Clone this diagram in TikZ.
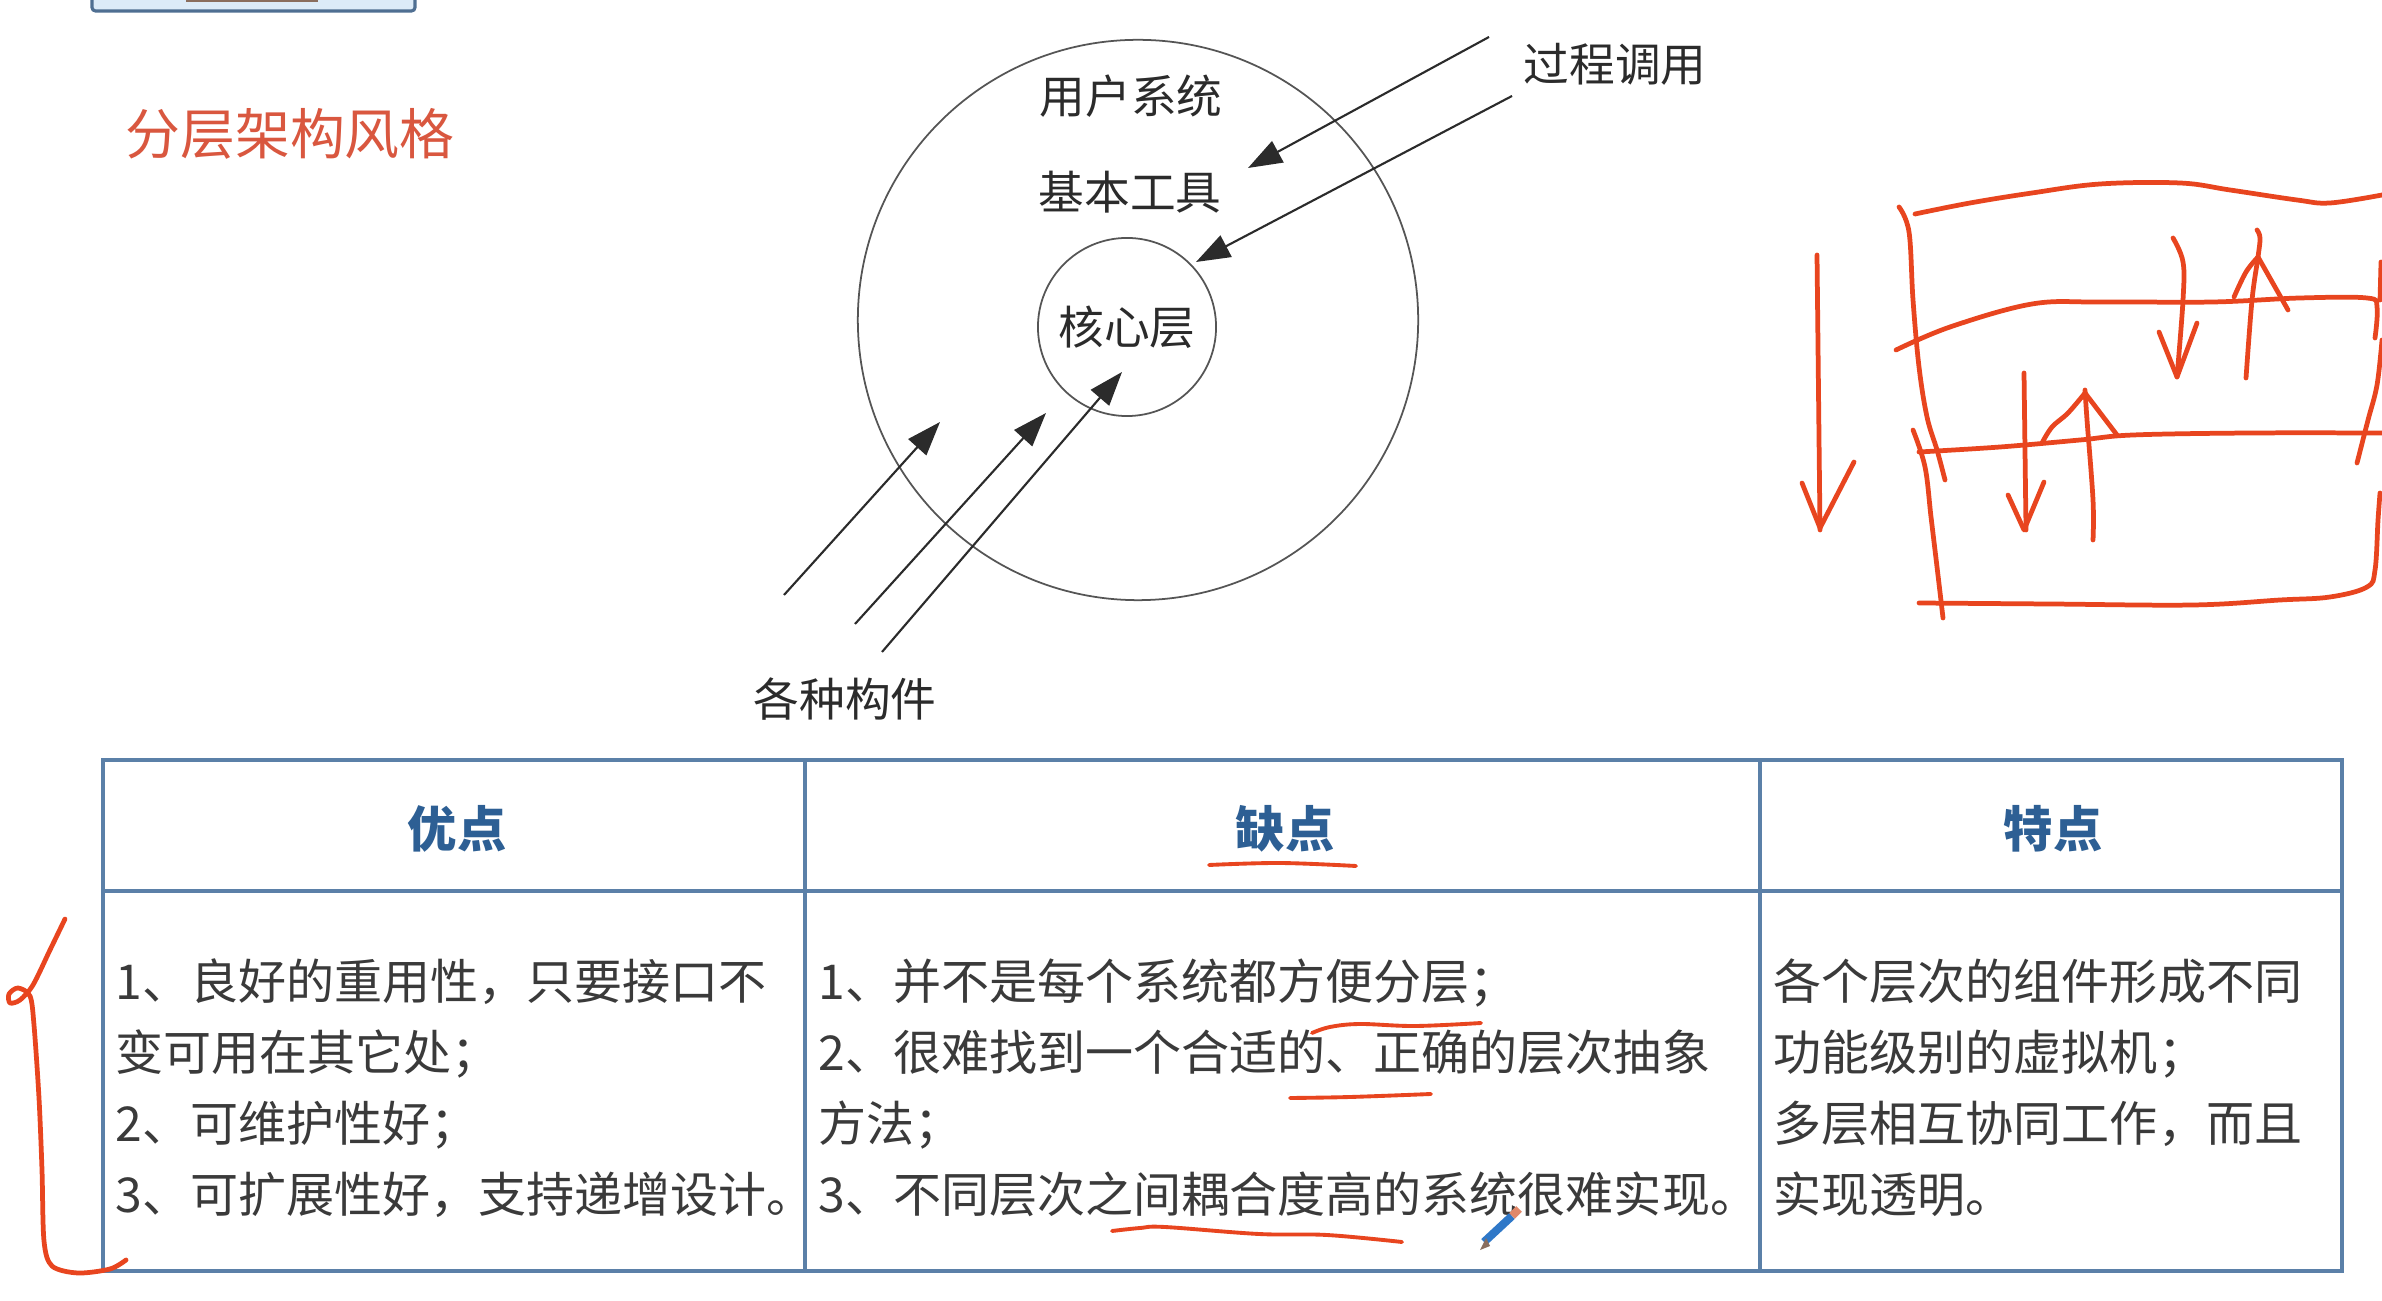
\documentclass[tikz,border=0pt]{standalone}
\usepackage{fontspec}
\setmainfont{Noto Sans CJK SC}
\usetikzlibrary{arrows.meta}
\definecolor{ink}{HTML}{2B2B2B}
\definecolor{pen}{HTML}{E8451F}
\definecolor{grid}{HTML}{5B80A8}
\definecolor{head}{HTML}{2D5F94}
\definecolor{body}{HTML}{3A3A3A}
\definecolor{titlered}{HTML}{D9573F}
\definecolor{tabfill}{HTML}{DCEBF8}
\definecolor{tabedge}{HTML}{4F6F92}
\definecolor{tabbar}{HTML}{8A6E5E}
\definecolor{pencilblue}{HTML}{2F78C8}
\definecolor{pencilcap}{HTML}{E0886A}
\begin{document}
\begin{tikzpicture}[x=0.01cm,y=-0.01cm,
  dlabel/.style={font=\fontsize{13}{15}\selectfont, text=ink, inner sep=0pt},
  callarrow/.style={draw=ink, line width=0.6pt, -{Triangle[length=0.34cm,width=0.24cm]}},
  ring/.style={circle, draw=ink!80, line width=0.5pt, inner sep=0pt},
  hand/.style={draw=pen, line width=1.35pt, line cap=round, line join=round},
  underline/.style={draw=pen, line width=1.1pt, line cap=round},
  gridline/.style={draw=grid, line width=0.9pt},
  headtext/.style={font=\fontsize{14}{16}\selectfont\bfseries, text=head, inner sep=0pt},
  celltext/.style={font=\fontsize{13.66}{20.2}\selectfont, text=body, align=left, anchor=west, inner sep=0pt},
]
\fill[white] (0,0) rectangle (2382,1301);
\useasboundingbox (0,0) rectangle (2382,1301);

% tab at the top edge
\draw[fill=tabfill, draw=tabedge, line width=0.9pt, rounded corners=1pt] (92,-12) rectangle (415,11);
\fill[tabbar] (186,-5) rectangle (318,2);

% heading
\node[font=\fontsize{15.6}{18}\selectfont, text=titlered, inner sep=0pt] (title) at (290,134) {分层架构风格};

% layered rings
\node[ring, minimum size=5.6cm] (outer) at (1138,320) {};
\node[ring, minimum size=1.78cm, font=\fontsize{13}{15}\selectfont, text=ink] (core) at (1127,327) {核心层};
\node[dlabel] (user) at (1131,96) {用户系统};
\node[dlabel] (tools) at (1130,192) {基本工具};
\node[dlabel] (call) at (1615,64) {过程调用};
\node[dlabel] (parts) at (845,699) {各种构件};

% procedure-call arrows
\coordinate (c1s) at (1489,37);  \coordinate (c1e) at (1248,168);
\coordinate (c2s) at (1512,96);  \coordinate (c2e) at (1196,262);
\draw[callarrow] (c1s) -- (c1e);
\draw[callarrow] (c2s) -- (c2e);

% component arrows
\coordinate (p1s) at (784,595);  \coordinate (p1e) at (940,422);
\coordinate (p2s) at (855,624);  \coordinate (p2e) at (1046,413);
\coordinate (p3s) at (882,652);  \coordinate (p3e) at (1122,372);
\draw[callarrow] (p1s) -- (p1e);
\draw[callarrow] (p2s) -- (p2e);
\draw[callarrow] (p3s) -- (p3e);

% hand sketch: stacked layers
\draw[hand] (1817,255) -- (1820,530);
\draw[hand] (1802,483) -- (1820,528) -- (1854,462);
\draw[hand] plot[smooth, tension=0.6] coordinates {(1899,207) (1909,232) (1913,300) (1919,367) (1927,417) (1937,450) (1945,480)};
\draw[hand] plot[smooth, tension=0.6] coordinates {(1913,430) (1925,467) (1931,517) (1937,567) (1943,618)};
\draw[hand] plot[smooth, tension=0.6] coordinates {(1915,214) (1970,203) (2032,193) (2100,184) (2180,183) (2230,190) (2297,200) (2330,203) (2382,195)};
\draw[hand] plot[smooth, tension=0.6] coordinates {(1896,350) (1950,327) (2032,304) (2100,302) (2213,302) (2300,298) (2367,298) (2377,307) (2375,338)};
\draw[hand] plot[smooth, tension=0.6] coordinates {(1919,452) (2000,447) (2080,440) (2133,435) (2250,433) (2382,433)};
\draw[hand] plot[smooth, tension=0.6] coordinates {(1919,603) (2050,604) (2193,605) (2280,600) (2330,597) (2367,587) (2375,570) (2378,520) (2380,493)};
\draw[hand] (2381,262) -- (2380,300);
\draw[hand] plot[smooth, tension=0.6] coordinates {(2382,340) (2377,385) (2368,420) (2357,463)};
\draw[hand] plot[smooth, tension=0.6] coordinates {(2173,238) (2183,262) (2183,300) (2177,377)};
\draw[hand] (2159,332) -- (2177,377) -- (2197,323);
\draw[hand] plot[smooth, tension=0.6] coordinates {(2246,378) (2252,300) (2258,257) (2260,238) (2257,230)};
\draw[hand] plot[smooth, tension=0.6] coordinates {(2234,297) (2246,272) (2258,257)};
\draw[hand] (2258,257) -- (2288,310);
\draw[hand] (2024,373) -- (2026,530);
\draw[hand] (2008,495) -- (2024,530) -- (2044,482);
\draw[hand] plot[smooth, tension=0.6] coordinates {(2093,540) (2093,500) (2087,420) (2085,390)};
\draw[hand] plot[smooth, tension=0.6] coordinates {(2042,443) (2052,427) (2068,413) (2085,393)};
\draw[hand] (2085,393) -- (2117,435);

% table
\draw[gridline] (103,760) rectangle (2342,1271);
\draw[gridline] (103,891) -- (2342,891);
\draw[gridline] (805,760) -- (805,1271);
\draw[gridline] (1760,760) -- (1760,1271);
\node[headtext] (hpro) at (457,829) {优点};
\node[headtext] (hcon) at (1285,829) {缺点};
\node[headtext] (hfea) at (2053,829) {特点};
\node[celltext] (pro) at (115,1088) {1、良好的重用性，只要接口不\\变可用在其它处；\\2、可维护性好；\\3、可扩展性好，支持递增设计。};
\node[celltext] (con) at (818,1088) {1、并不是每个系统都方便分层；\\2、很难找到一个合适的、正确的层次抽象\\方法；\\3、不同层次之间耦合度高的系统很难实现。};
\node[celltext] (fea) at (1773,1088) {各个层次的组件形成不同\\功能级别的虚拟机；\\多层相互协同工作，而且\\实现透明。};

% hand marks on the table
\draw[underline] plot[smooth, tension=0.6] coordinates {(1209,865) (1280,863) (1356,866)};
\draw[underline] plot[smooth, tension=0.6] coordinates {(1312,1033) (1330,1027) (1360,1024) (1415,1026) (1481,1023)};
\draw[underline] plot[smooth, tension=0.6] coordinates {(1290,1098) (1350,1097) (1431,1094)};
\draw[underline] plot[smooth, tension=0.6] coordinates {(1112,1231) (1140,1228) (1165,1227) (1259,1234) (1327,1235) (1402,1242)};
\draw[hand] plot[smooth, tension=0.5] coordinates {(65,919) (50,950) (33,985) (20,1000) (10,1003) (9,994) (18,988) (30,996) (34,1025) (39,1098) (42,1170) (44,1241) (52,1266) (78,1273) (110,1269) (126,1260)};

% pen cursor
\draw[pencilblue, line width=2.3pt] (1512,1216) -- (1484,1242);
\draw[pencilcap, line width=2.3pt] (1519,1209) -- (1512,1216);
\fill[tabbar] (1486,1238) -- (1480,1250) -- (1490,1246) -- cycle;
\end{tikzpicture}
\end{document}
